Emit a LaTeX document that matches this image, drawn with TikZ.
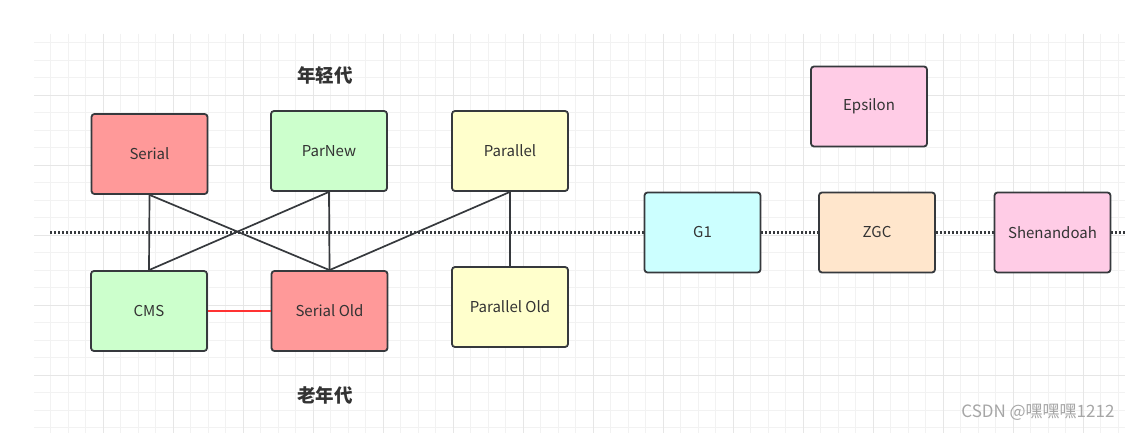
\documentclass[tikz,border=0pt]{standalone}
\usepackage{fontspec}
\setmainfont{Noto Sans CJK SC}
\definecolor{edge}{HTML}{36393D}
\definecolor{txt}{HTML}{333333}
\definecolor{cred}{HTML}{FF9999}
\definecolor{cgreen}{HTML}{CCFFCC}
\definecolor{cyellow}{HTML}{FFFFCC}
\definecolor{ccyan}{HTML}{CCFFFF}
\definecolor{corange}{HTML}{FFE6CC}
\definecolor{cpink}{HTML}{FFCCE6}
\definecolor{redline}{HTML}{FF3333}
\definecolor{gminor}{HTML}{F2F2F2}
\definecolor{gmajor}{HTML}{E6E6E6}
\tikzset{
  gcbox/.style={draw=edge, line width=1.8pt, rounded corners=3pt,
    minimum width=116pt, minimum height=80pt, inner sep=0pt,
    text=txt, font=\fontsize{15}{17}\selectfont},
  link/.style={draw=edge, line width=1.7pt},
  sep/.style={draw=edge, line width=2.2pt, dash pattern=on 2pt off 2pt},
  heading/.style={text=txt, font=\fontsize{18.5}{20}\selectfont\bfseries},
}
\begin{document}
\begin{tikzpicture}[x=1pt,y=-1pt]
\useasboundingbox (0,0) rectangle (1131,433);
\fill[white] (0,0) rectangle (1131,433);
% grid
\begin{scope}
\clip (34,34) rectangle (1125,433);
\foreach \i in {0,...,62} {
  \draw[gminor, line width=1pt] (33.3+17.5*\i,34) -- (33.3+17.5*\i,433);
}
\foreach \j in {1,...,23} {
  \draw[gminor, line width=1pt] (34,25.2+17.5*\j) -- (1125,25.2+17.5*\j);
}
\foreach \i in {0,4,...,60} {
  \draw[gmajor, line width=1pt] (33.3+17.5*\i,34) -- (33.3+17.5*\i,433);
}
\foreach \j in {4,8,...,20} {
  \draw[gmajor, line width=1pt] (34,25.2+17.5*\j) -- (1125,25.2+17.5*\j);
}
\end{scope}

% headings
\node[heading] (young) at (325,75) {年轻代};
\node[heading] (old) at (325,395) {老年代};

% nodes
\node[gcbox, fill=cred]    (serial)   at (149.5,154) {Serial};
\node[gcbox, fill=cgreen]  (parnew)   at (329,151) {ParNew};
\node[gcbox, fill=cyellow] (parallel) at (510,151) {Parallel};
\node[gcbox, fill=cgreen]  (cms)      at (149,311) {CMS};
\node[gcbox, fill=cred]    (serialold) at (329.5,311) {Serial Old};
\node[gcbox, fill=cyellow] (parold)   at (510,307) {Parallel Old};
\node[gcbox, fill=cpink]   (epsilon)  at (869,106.5) {Epsilon};
\node[gcbox, fill=ccyan]   (g1)       at (702.5,232.5) {G1};
\node[gcbox, fill=corange] (zgc)      at (877,232.5) {ZGC};
\node[gcbox, fill=cpink]   (shen)     at (1052.5,232.5) {Shenandoah};

% separator
\coordinate (lstart) at (50,232.5);
\coordinate (lend) at (1125,232.5);
\draw[sep] (lstart) -- (g1.west);
\draw[sep] (g1.east) -- (zgc.west);
\draw[sep] (zgc.east) -- (shen.west);
\draw[sep] (shen.east) -- (lend);

% links
\draw[link] (serial.south) -- (cms.north);
\draw[link] (serial.south) -- (serialold.north);
\draw[link] (parnew.south) -- (cms.north);
\draw[link] (parnew.south) -- (serialold.north);
\draw[link] (parallel.south) -- (serialold.north);
\draw[link] (parallel.south) -- (parold.north);
\draw[draw=redline, line width=1.7pt] (cms.east) -- (serialold.west);

% watermark
\node[text=gray!70, font=\fontsize{17}{19}\selectfont, anchor=east] (wm) at (1118,412) {CSDN @嘿嘿嘿1212};
\end{tikzpicture}
\end{document}
